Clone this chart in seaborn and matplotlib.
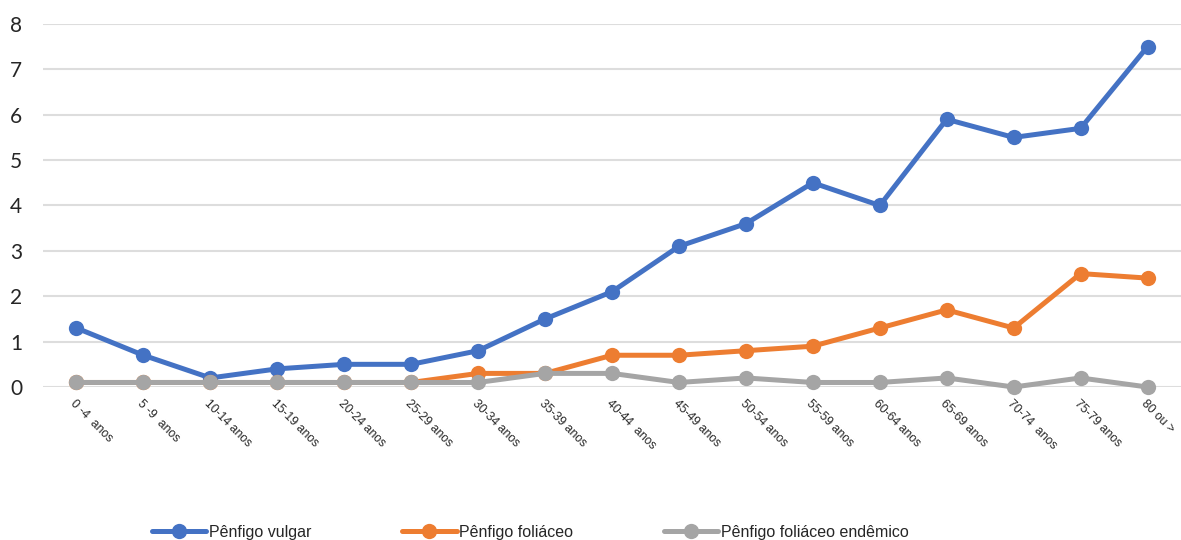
import matplotlib
matplotlib.use("Agg")
import matplotlib.pyplot as plt
import seaborn as sns
import pandas as pd

categories = ["0 -4  anos", "5 -9  anos", "10-14 anos", "15-19 anos", "20-24 anos",
              "25-29 anos", "30-34 anos", "35-39 anos", "40-44  anos", "45-49 anos",
              "50-54 anos", "55-59 anos", "60-64 anos", "65-69 anos", "70-74  anos",
              "75-79 anos", "80 ou >"]
vulgar = [1.3, 0.7, 0.2, 0.4, 0.5, 0.5, 0.8, 1.5, 2.1, 3.1, 3.6, 4.5, 4.0, 5.9, 5.5, 5.7, 7.5]
foliaceo = [0.1, 0.1, 0.1, 0.1, 0.1, 0.1, 0.3, 0.3, 0.7, 0.7, 0.8, 0.9, 1.3, 1.7, 1.3, 2.5, 2.4]
endemico = [0.1, 0.1, 0.1, 0.1, 0.1, 0.1, 0.1, 0.3, 0.3, 0.1, 0.2, 0.1, 0.1, 0.2, 0.0, 0.2, 0.0]
series_names = ["Pênfigo vulgar", "Pênfigo foliáceo", "Pênfigo foliáceo endêmico"]
colors = ["#4472C4", "#ED7D31", "#A5A5A5"]

sns.set_theme(style="white")
plt.rcParams['font.family'] = ['Liberation Sans', 'DejaVu Sans']

fig = plt.figure(figsize=(11.81, 5.40), dpi=100)
ax = fig.add_axes([0.0364, 0.2833, 0.9636, 0.6723])

for name, vals, col in zip(series_names, [vulgar, foliaceo, endemico], colors):
    df = pd.DataFrame({"cat": categories, "val": vals})
    sns.lineplot(data=df, x="cat", y="val", ax=ax, color=col, linewidth=3.6,
                 marker="o", markersize=11, markeredgewidth=0, label=name,
                 sort=False, clip_on=False)

ax.set_xlim(-0.5, 16.5)
ax.set_ylim(0, 8)
ax.set_yticks(range(0, 9))
ax.yaxis.grid(True, color="#DDDDDD", linewidth=1.5)
ax.set_axisbelow(True)
for s in ax.spines.values():
    s.set_visible(False)
ax.set_xlabel("")
ax.set_ylabel("")
ax.tick_params(axis="y", length=0, pad=15, labelsize=15)
for lab in ax.get_yticklabels():
    lab.set_family(['Lato', 'DejaVu Sans'])
ax.tick_params(axis="x", length=0, pad=8)
ax.set_xticks(range(len(categories)))
ax.set_xticklabels(categories, rotation=-45, ha="left", va="top",
                   rotation_mode="anchor", fontsize=8.8)

ax.legend(loc="lower center", bbox_to_anchor=(0.449, -0.026), bbox_transform=fig.transFigure,
          ncol=3, frameon=False, fontsize=11.5, handlelength=3.4, columnspacing=5.7,
          handletextpad=0.15, markerscale=1.0)

fig.savefig("out.png", dpi=100)
